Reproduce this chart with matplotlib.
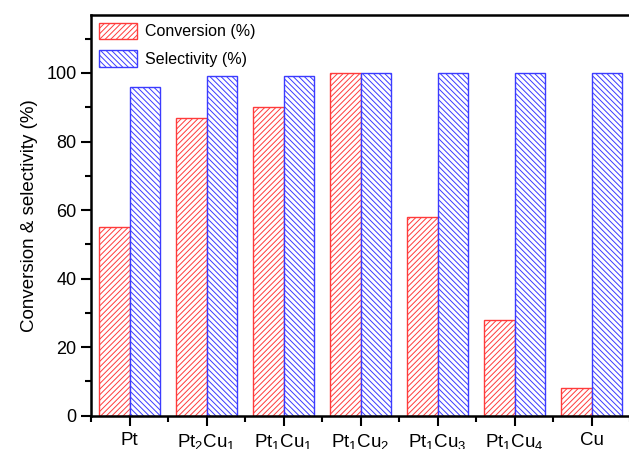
import numpy as np
import matplotlib.pyplot as plt
from matplotlib.ticker import MultipleLocator

samples = ['Pt', 'Pt$_2$Cu$_1$', 'Pt$_1$Cu$_1$', 'Pt$_1$Cu$_2$',
           'Pt$_1$Cu$_3$', 'Pt$_1$Cu$_4$', 'Cu']
conversion = [55, 87, 90, 100, 58, 28, 8]
selectivity = [96, 99, 99, 100, 100, 100, 100]

plt.rcParams['font.family'] = ['Liberation Sans', 'DejaVu Sans']
plt.rcParams['mathtext.fontset'] = 'custom'
plt.rcParams['mathtext.rm'] = 'Liberation Sans'
plt.rcParams['mathtext.it'] = 'Liberation Sans'
plt.rcParams['hatch.linewidth'] = 0.7

fig = plt.figure(figsize=(6.29, 4.49), dpi=100)
ax = fig.add_axes([0.1447, 0.0742, 0.857, 0.893])

x = np.arange(len(samples))
w = 0.4
red = '#ff3b3b'
blue = '#3b3bff'
ax.bar(x - w/2, conversion, w, facecolor='white', edgecolor=red,
       hatch='//////', linewidth=1, label='Conversion (%)')
ax.bar(x + w/2, selectivity, w, facecolor='white', edgecolor=blue,
       hatch='\\\\\\\\\\\\', linewidth=1, label='Selectivity (%)')

ax.set_xlim(-0.5, 6.5)
ax.set_ylim(0, 117)
ax.set_xticks(x)
ax.set_xticklabels(samples, fontsize=13.5)
ax.xaxis.set_minor_locator(MultipleLocator(0.5))
ax.yaxis.set_major_locator(MultipleLocator(20))
ax.yaxis.set_minor_locator(MultipleLocator(10))
ax.tick_params(which='major', length=7, width=1.5, labelsize=13, direction='out')
ax.tick_params(axis='x', which='major', labelsize=13.5, pad=5)
ax.tick_params(which='minor', length=4, width=1.5, direction='out')
ax.tick_params(axis='x', which='minor', labelbottom=False)
for s in ax.spines.values():
    s.set_linewidth(1.8)

ax.set_ylabel('Conversion & selectivity (%)', fontsize=13.5, labelpad=6)

ax.legend(loc='upper left', frameon=False, fontsize=11.5,
          handlelength=2.4, handleheight=1.2, handletextpad=0.5,
          borderaxespad=0.1, borderpad=0.4, labelspacing=0.7)

fig.savefig('out.png', dpi=100)
